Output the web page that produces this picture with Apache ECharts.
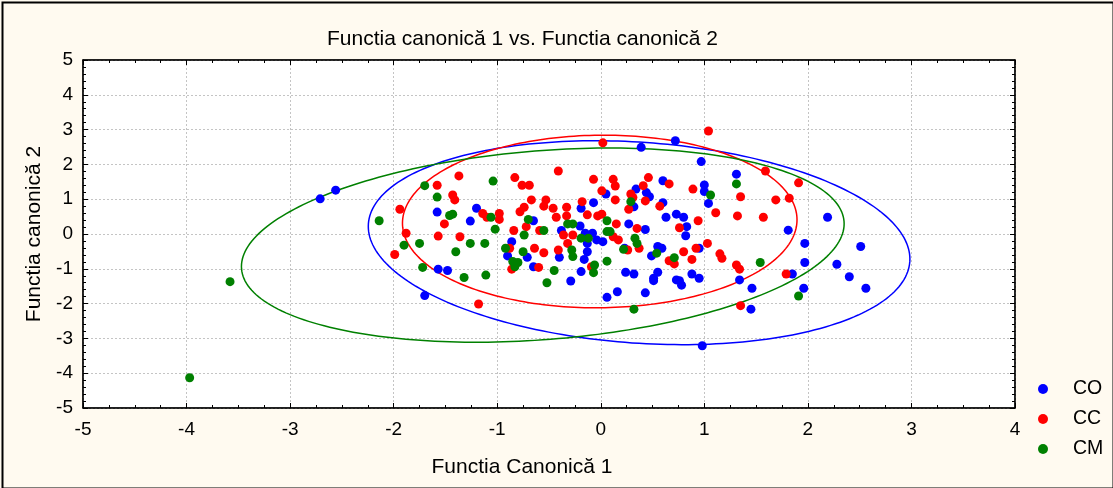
<!DOCTYPE html>
<html>
<head>
<meta charset="utf-8">
<script src="https://cdn.jsdelivr.net/npm/echarts@6/dist/echarts.min.js"></script>
<style>
html,body{margin:0;padding:0;background:#fffaf0;}
#chart{width:1113px;height:488px;}
</style>
</head>
<body>
<div id="chart"></div>
<script>
// ---- data ----
const seriesNames = ['CO', 'CC', 'CM'];
const seriesColors = ['#0000ff', '#ff0000', '#008000'];

const CO = [
[-2.71,1.01],[-2.56,1.26],[-1.20,0.74],[-1.58,0.63],[-0.19,0.74],[-0.07,0.90],[0.05,1.15],
[-1.26,0.37],[-0.65,0.38],[-0.86,-0.22],[-0.90,-0.63],[-0.71,-0.67],[-0.65,-0.94],[-0.29,-1.35],
[-0.19,-1.08],[-0.20,0.23],[-0.38,0.10],[-0.15,0.02],[-0.08,0.02],[-0.04,-0.17],[0.02,-0.22],
[-0.13,-0.27],[-0.13,-0.51],[-0.40,-0.67],[-0.16,-0.73],[-1.57,-1.01],[-1.48,-1.05],[-1.70,-1.77],
[0.06,-1.82],[0.16,-1.66],[0.72,2.68],[0.39,2.49],[0.97,2.08],[1.31,1.72],[0.60,1.53],[0.34,1.29],
[0.44,1.19],[0.47,1.07],[0.32,0.78],[0.60,0.90],[1.00,1.41],[1.00,1.22],[1.04,0.88],[2.19,0.48],
[0.63,0.48],[0.73,0.57],[0.80,0.48],[0.27,0.29],[0.43,0.13],[0.83,0.21],[1.81,0.11],[0.23,-0.41],
[0.55,-0.36],[0.59,-0.41],[0.49,-0.63],[0.95,-0.41],[0.82,-0.05],[0.24,-1.10],[0.32,-1.15],
[0.55,-1.10],[0.51,-1.27],[0.51,-1.34],[0.73,-1.32],[0.76,-1.34],[0.78,-1.47],[0.88,-1.15],
[0.95,-1.27],[0.43,-1.69],[1.34,-1.32],[1.46,-1.56],[1.45,-2.16],[1.85,-1.15],[1.97,-0.27],
[1.97,-0.82],[1.96,-1.56],[2.28,-0.87],[2.40,-1.23],[2.51,-0.36],[2.56,-1.56],[0.98,-3.21]
];

const CC = [
[-1.94,0.71],[-1.88,0.02],[-1.99,-0.59],[0.02,2.62],[-1.58,1.40],[-1.37,1.67],[-1.43,1.12],
[-1.41,0.98],[-0.83,1.62],[-0.76,1.40],[-0.69,1.40],[-0.41,1.81],[-0.67,0.98],[-0.53,0.98],
[-0.07,1.57],[0.01,1.24],[0.12,1.57],[0.14,1.38],[-0.18,0.93],[-0.33,0.77],[-0.46,0.74],
[-0.55,0.80],[-0.74,0.77],[0.14,0.98],[-1.51,0.29],[-1.14,0.59],[-1.10,0.48],[-0.98,0.59],
[-0.98,0.42],[-1.57,-0.06],[-1.36,-0.08],[-0.78,0.64],[-0.72,0.21],[-0.84,0.10],[-0.59,0.10],
[-0.88,-0.41],[-0.86,-1.01],[-0.64,-0.41],[-0.55,-0.54],[-0.60,-0.96],[-0.43,0.48],[-0.33,0.52],
[-0.13,0.55],[-0.03,0.52],[0.01,0.57],[0.15,0.29],[-0.36,-0.03],[-0.27,-0.03],[-0.32,-0.27],
[0.12,-0.08],[0.17,-0.17],[-0.41,-0.46],[-0.09,-0.94],[-1.18,-2.01],[1.04,2.96],[1.59,1.81],
[1.91,1.47],[0.46,1.62],[0.41,1.39],[0.66,1.44],[0.29,1.15],[0.31,1.05],[0.27,0.71],[0.43,0.95],
[0.57,0.80],[0.89,1.29],[1.35,1.07],[1.69,0.98],[1.82,1.03],[1.11,0.61],[1.32,0.52],[1.57,0.48],
[0.94,0.38],[0.35,0.16],[0.76,0.18],[0.26,-0.46],[0.37,-0.41],[0.66,-0.77],[0.71,-0.86],
[0.88,-0.73],[0.80,-0.51],[0.92,-0.41],[1.03,-0.27],[1.15,-0.57],[1.17,-0.70],[1.31,-0.89],
[1.34,-1.01],[1.35,-2.06],[1.79,-1.15]
];

const CM = [
[-2.14,0.38],[-1.90,-0.32],[-1.75,-0.27],[-3.58,-1.37],[-3.97,-4.13],[-1.72,-0.96],[-1.70,1.39],
[-1.58,1.06],[-1.04,1.52],[-1.46,0.53],[-1.43,0.57],[-1.06,0.48],[-1.02,0.14],[-1.40,-0.51],
[-1.26,-0.27],[-1.12,-0.27],[-1.32,-1.25],[-1.11,-1.18],[-0.70,0.42],[-0.74,-0.03],[-0.55,0.10],
[-0.92,-0.41],[-0.85,-0.79],[-0.80,-0.82],[-0.83,-0.94],[-0.75,-0.51],[-0.45,-1.05],[-0.52,-1.40],
[-0.32,0.29],[-0.27,0.29],[0.06,0.38],[-0.19,-0.12],[-0.12,-0.12],[0.06,0.07],[0.09,0.07],
[-0.28,-0.46],[-0.27,-0.65],[0.06,-0.78],[-0.06,-0.89],[-0.07,-1.11],[1.31,1.44],[1.06,1.12],
[0.29,0.93],[0.22,-0.44],[0.33,-0.12],[0.35,-0.27],[0.54,-0.55],[0.71,-0.68],[0.32,-2.16],
[1.54,-0.82],[1.91,-1.78]
];

// ellipse parameters: [centre x, centre y, half-extent x, half-extent y, correlation]
const ellipseCO = [0.37, -0.25, 2.615, 2.93, -0.16];
const ellipseCC = [-0.01, 0.36, 1.905, 2.48, 0.02];
const ellipseCM = [-0.56, -0.32, 2.91, 2.79, 0.22];

const xMin = -5, xMax = 4, yMin = -5, yMax = 5;
const titleText = 'Functia canonică 1 vs. Functia canonică 2';
const xName = 'Functia Canonică 1';
const yName = 'Functia canonică 2';

// ---- chart ----
const chart = echarts.init(document.getElementById('chart'), null, {renderer: 'canvas'});
const FONT = 'Liberation Sans, Arial, sans-serif';

function ellipseRenderer(color) {
  return function (params, api) {
    const cx = api.value(0), cy = api.value(1), hx = api.value(2), hy = api.value(3), rho = api.value(4);
    const s = Math.sqrt(1 - rho * rho);
    const pts = [];
    const N = 240;
    for (let i = 0; i <= N; i++) {
      const t = i / N * 2 * Math.PI;
      pts.push(api.coord([cx + hx * Math.cos(t), cy + hy * (rho * Math.cos(t) + s * Math.sin(t))]));
    }
    return {type: 'polyline', shape: {points: pts}, style: {stroke: color, fill: null, lineWidth: 1.5}};
  };
}

const baseAxisX = {
  type: 'value', min: xMin, max: xMax, interval: 1,
  axisLine: {show: true, onZero: false, lineStyle: {color: '#000', width: 1.5}},
  axisTick: {show: true, inside: true, length: 5, lineStyle: {color: '#000'}},
  minorTick: {show: true, splitNumber: 4, length: 3, lineStyle: {color: '#000'}},
};
const baseAxisY = {
  type: 'value', min: yMin, max: yMax, interval: 1,
  axisLine: {show: true, onZero: false, lineStyle: {color: '#000', width: 1.5}},
  axisTick: {show: true, inside: true, length: 5, lineStyle: {color: '#000'}},
  minorTick: {show: true, splitNumber: 5, length: 3, lineStyle: {color: '#000'}},
};

const option = {
  backgroundColor: '#fffaf0',
  animation: false,
  title: {
    text: titleText, left: 322, top: 24,
    textStyle: {fontFamily: FONT, fontSize: 21, fontWeight: 'normal', color: '#000'}
  },
  legend: {
    data: seriesNames.map(n => ({name: n, icon: 'circle'})),
    orient: 'vertical', left: 1033, top: 374,
    itemWidth: 10, itemHeight: 10, itemGap: 10,
    textStyle: {fontFamily: FONT, fontSize: 19.5, color: '#000', padding: [0, 0, 0, 20], lineHeight: 16}
  },
  graphic: [{
    type: 'rect', left: 0, top: 0, z: 100, silent: true,
    shape: {x: 1, y: 1, width: 1111, height: 486},
    style: {fill: null, stroke: '#000', lineWidth: 2}
  }],
  grid: {left: 83, right: 98, top: 60, bottom: 80, show: true, backgroundColor: '#ffffff', borderColor: '#000', borderWidth: 1},
  xAxis: [
    Object.assign({}, baseAxisX, {
      position: 'bottom', name: xName, nameLocation: 'middle', nameGap: 49,
      nameTextStyle: {fontFamily: FONT, fontSize: 21, color: '#000', padding: [0, 54, 0, 0]},
      axisLabel: {fontFamily: FONT, fontSize: 19, color: '#000', margin: 12},
      splitLine: {show: true, lineStyle: {color: '#c4c4c4', width: 1, type: [2, 2]}}
    }),
    Object.assign({}, baseAxisX, {position: 'top', axisLabel: {show: false}, splitLine: {show: false}})
  ],
  yAxis: [
    Object.assign({}, baseAxisY, {
      position: 'left', name: yName, nameLocation: 'middle', nameGap: 38,
      nameTextStyle: {fontFamily: FONT, fontSize: 21, color: '#000'},
      axisLabel: {fontFamily: FONT, fontSize: 19, color: '#000', margin: 10},
      splitLine: {show: true, lineStyle: {color: '#c4c4c4', width: 1, type: [2, 2]}}
    }),
    Object.assign({}, baseAxisY, {position: 'right', axisLabel: {show: false}, splitLine: {show: false}})
  ],
  series: [
    {type: 'custom', name: 'ellCO', coordinateSystem: 'cartesian2d', renderItem: ellipseRenderer(seriesColors[0]), data: [ellipseCO], encode: {x: 0, y: 1}, silent: true, z: 1, clip: true},
    {type: 'custom', name: 'ellCC', coordinateSystem: 'cartesian2d', renderItem: ellipseRenderer(seriesColors[1]), data: [ellipseCC], encode: {x: 0, y: 1}, silent: true, z: 1, clip: true},
    {type: 'custom', name: 'ellCM', coordinateSystem: 'cartesian2d', renderItem: ellipseRenderer(seriesColors[2]), data: [ellipseCM], encode: {x: 0, y: 1}, silent: true, z: 1, clip: true},
    {type: 'scatter', name: 'CO', data: CO, symbol: 'circle', symbolSize: 9, itemStyle: {color: seriesColors[0], opacity: 1}, z: 3},
    {type: 'scatter', name: 'CC', data: CC, symbol: 'circle', symbolSize: 9, itemStyle: {color: seriesColors[1], opacity: 1}, z: 3},
    {type: 'scatter', name: 'CM', data: CM, symbol: 'circle', symbolSize: 9, itemStyle: {color: seriesColors[2], opacity: 1}, z: 3}
  ]
};
chart.setOption(option);
</script>
</body>
</html>
